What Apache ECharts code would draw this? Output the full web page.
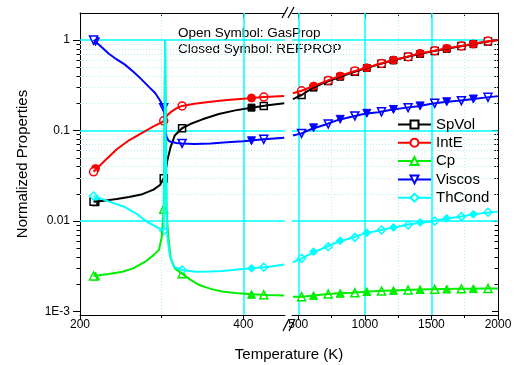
<!DOCTYPE html>
<html>
<head>
<meta charset="utf-8">
<script src="https://cdn.jsdelivr.net/npm/echarts@6/dist/echarts.min.js"></script>
<style>
html, body { margin: 0; padding: 0; background: #fff; }
#chart { width: 515px; height: 365px; }
</style>
</head>
<body>
<div id="chart"></div>
<script>
// marker temperatures (K): open = GasProp, closed = REFPROP
var openT   = [216.6, 302.5, 325, 425, 525, 725, 925, 1125, 1325, 1525, 1725, 1925];
var filledT = [219, 410, 615, 815, 1015, 1215, 1415, 1615, 1815];

// tick values / labels
var xLeftTicks  = [200, 400];
var xLeftMinor  = [300];
var xRightTicks = [500, 1000, 1500, 2000];
var xRightMinor = [750, 1250, 1750];
var yTicks      = [0.001, 0.01, 0.1, 1];
var yTickLabels = ['1E-3', '0.01', '0.1', '1'];
var yMinor = [0.002, 0.003, 0.004, 0.005, 0.006, 0.007, 0.008, 0.009,
              0.02, 0.03, 0.04, 0.05, 0.06, 0.07, 0.08, 0.09,
              0.2, 0.3, 0.4, 0.5, 0.6, 0.7, 0.8, 0.9];

// SpVol
var spVolT = [216.6, 230, 245, 260, 275, 290, 298, 302.5, 304, 307, 311, 316, 325, 335, 350, 370, 390, 410, 430, 450,
              460, 525, 600, 700, 800, 900, 1000, 1100, 1200, 1300, 1400, 1500, 1600, 1700, 1800, 1900, 2000];
var spVolV = [0.0163, 0.0168, 0.0175, 0.0184, 0.0196, 0.0222, 0.025, 0.030, 0.032, 0.047, 0.066, 0.088, 0.106, 0.118, 0.133, 0.152, 0.167, 0.179, 0.19, 0.2,
              0.222, 0.247, 0.29, 0.34, 0.385, 0.435, 0.485, 0.535, 0.59, 0.64, 0.695, 0.745, 0.795, 0.845, 0.895, 0.95, 1.0];
var spVolOpen   = [0.0163, 0.0297, 0.106, 0.187, 0.247, 0.352, 0.447, 0.548, 0.653, 0.757, 0.857, 0.962];
var spVolFilled = [0.0161, 0.179, 0.298, 0.393, 0.491, 0.596, 0.702, 0.80, 0.90];

// IntE
var intET = [216.6, 230, 245, 260, 275, 290, 298, 302.5, 304, 307, 312, 318, 325, 340, 360, 380, 400, 425, 450,
             460, 525, 600, 700, 800, 900, 1000, 1100, 1200, 1300, 1400, 1500, 1600, 1700, 1800, 1900, 2000];
var intEV = [0.035, 0.046, 0.062, 0.078, 0.093, 0.111, 0.121, 0.127, 0.13, 0.148, 0.162, 0.176, 0.187, 0.198, 0.208, 0.217, 0.225, 0.234, 0.241,
             0.258, 0.275, 0.305, 0.347, 0.395, 0.443, 0.489, 0.54, 0.595, 0.643, 0.705, 0.75, 0.804, 0.848, 0.9, 0.96, 1.0];
var intEOpen   = [0.035, 0.128, 0.187, 0.234, 0.275, 0.358, 0.454, 0.552, 0.654, 0.762, 0.859, 0.975];
var intEFilled = [0.038, 0.229, 0.31, 0.40, 0.494, 0.601, 0.713, 0.809, 0.904];

// Cp
var cpT = [216.6, 235, 252, 265, 280, 290, 296.7, 300, 302.5, 303.6, 304.2, 304.8, 306, 308, 311, 316, 325, 335, 346, 360, 374, 390, 410, 430, 450,
           460, 525, 600, 700, 800, 900, 1000, 1100, 1200, 1300, 1400, 1500, 1600, 1700, 1800, 1900, 2000];
var cpV = [0.00247, 0.0026, 0.00275, 0.003, 0.00355, 0.0042, 0.0048, 0.0066, 0.0135, 0.2, 1.0, 0.2, 0.013, 0.0068, 0.0039, 0.003, 0.00262, 0.00225, 0.00196, 0.00178, 0.00166, 0.0016, 0.00155, 0.00152, 0.0015,
           0.00146, 0.00146, 0.00149, 0.00155, 0.00159, 0.00161, 0.00165, 0.00168, 0.00171, 0.00173, 0.00175, 0.00176, 0.00177, 0.00178, 0.00179, 0.0018, 0.0018];
var cpOpen   = [0.00247, 0.0135, 0.00262, 0.00153, 0.00146, 0.00156, 0.00161, 0.00168, 0.00173, 0.00176, 0.00178, 0.0018];
var cpFilled = [0.00247, 0.00155, 0.0015, 0.00159, 0.00166, 0.00171, 0.00175, 0.00177, 0.00179];

// Viscos
var viscT = [216.6, 225, 235, 245, 255, 265, 275, 285, 292, 298, 302.5, 303.5, 304.5, 306, 308, 311, 318, 325, 340, 360, 380, 400, 425, 450,
             460, 525, 600, 700, 800, 900, 1000, 1100, 1200, 1300, 1400, 1500, 1600, 1700, 1800, 1900, 2000];
var viscV = [1.0, 0.86, 0.71, 0.61, 0.535, 0.45, 0.37, 0.3, 0.26, 0.215, 0.178, 0.14, 0.1, 0.085, 0.078, 0.075, 0.073, 0.072, 0.071, 0.072, 0.074, 0.076, 0.08, 0.083,
             0.088, 0.093, 0.104, 0.116, 0.131, 0.142, 0.153, 0.159, 0.17, 0.178, 0.186, 0.198, 0.207, 0.213, 0.222, 0.231, 0.24];
var viscOpen   = [1.0, 0.178, 0.072, 0.080, 0.093, 0.118, 0.145, 0.161, 0.179, 0.2, 0.214, 0.233];
var viscFilled = [0.958, 0.077, 0.107, 0.133, 0.155, 0.171, 0.187, 0.208, 0.223];

// ThCond
var thCondT = [216.6, 235, 254, 270, 282, 292, 298, 302.5, 303.6, 304.2, 304.8, 306, 307, 310, 315, 325, 342, 360, 374, 390, 410, 430, 450,
               460, 525, 600, 700, 800, 900, 1000, 1100, 1200, 1300, 1400, 1500, 1600, 1700, 1800, 1900, 2000];
var thCondV = [0.0189, 0.0165, 0.0144, 0.0119, 0.0098, 0.0088, 0.0082, 0.0078, 0.1, 1.0, 0.1, 0.012, 0.0067, 0.0042, 0.0031, 0.00288, 0.00275, 0.00276, 0.0028, 0.0029, 0.003, 0.0031, 0.0033,
               0.0035, 0.00387, 0.0044, 0.0051, 0.0059, 0.0065, 0.0073, 0.0078, 0.0084, 0.009, 0.0095, 0.0099, 0.0106, 0.0111, 0.0117, 0.0123, 0.0127];
var thCondOpen   = [0.0189, 0.0078, 0.00288, 0.00309, 0.00387, 0.0052, 0.0066, 0.00795, 0.00903, 0.0100, 0.0112, 0.0125];
var thCondFilled = [0.0178, 0.0030, 0.00458, 0.00606, 0.00743, 0.0085, 0.00966, 0.0107, 0.0119];

var props = [
    {name: 'SpVol',  color: '#000000', symbol: 'rect',     rot: 0,   t: spVolT,  v: spVolV,  open: spVolOpen,  filled: spVolFilled},
    {name: 'IntE',   color: '#ff0000', symbol: 'circle',   rot: 0,   t: intET,   v: intEV,   open: intEOpen,   filled: intEFilled},
    {name: 'Cp',     color: '#00ee00', symbol: 'triangle', rot: 0,   t: cpT,     v: cpV,     open: cpOpen,     filled: cpFilled},
    {name: 'Viscos', color: '#0000ff', symbol: 'triangle', rot: 180, t: viscT,   v: viscV,   open: viscOpen,   filled: viscFilled},
    {name: 'ThCond', color: '#00ffff', symbol: 'diamond',  rot: 0,   t: thCondT, v: thCondV, open: thCondOpen, filled: thCondFilled}
];

// the two pieces of the broken x axis
var segs = [
    {xi: 0, yi: 0, lo: 200, hi: 451, xMajor: xLeftTicks, xMinor: xLeftMinor},
    {xi: 4, yi: 2, lo: 453, hi: 2000, xMajor: xRightTicks, xMinor: xRightMinor}
];

var FONT = 'Liberation Sans, Arial, sans-serif';
var MAJOR = '#00ffff';
var MINOR = '#b4f2f2';

function pick(ts, vs, lo, hi) {
    var out = [];
    for (var i = 0; i < ts.length; i++) {
        if (ts[i] >= lo && ts[i] <= hi) out.push([ts[i], vs[i]]);
    }
    return out;
}

// grid lines as mark lines, kept below the data
function gridLines(s) {
    var d = [];
    var solid = {color: MAJOR, width: 1.5, type: 'solid'};
    var dot = {color: MINOR, width: 1, type: [1, 2]};
    yMinor.forEach(function (v) { d.push({yAxis: v, lineStyle: dot}); });
    s.xMinor.forEach(function (v) { d.push({xAxis: v, lineStyle: dot}); });
    yTicks.forEach(function (v) { d.push({yAxis: v, lineStyle: solid}); });
    s.xMajor.forEach(function (v) { if (v > s.lo && v < s.hi) d.push({xAxis: v, lineStyle: solid}); });
    return {silent: true, symbol: 'none', z: 1, animation: false, label: {show: false}, emphasis: {disabled: true}, data: d};
}

var series = [];
props.forEach(function (p, pi) {
    segs.forEach(function (s) {
        var ser = {
            name: p.name, type: 'line', xAxisIndex: s.xi, yAxisIndex: s.yi,
            data: pick(p.t, p.v, s.lo, s.hi),
            showSymbol: false, symbol: 'empty' + p.symbol.charAt(0).toUpperCase() + p.symbol.slice(1),
            symbolRotate: p.rot,
            color: p.color, lineStyle: {width: 2, color: p.color},
            silent: true
        };
        if (pi === 0) ser.markLine = gridLines(s);
        series.push(ser);
    });
    segs.forEach(function (s) {
        series.push({
            name: p.name + ' REFPROP', type: 'scatter', xAxisIndex: s.xi, yAxisIndex: s.yi,
            data: pick(filledT, p.filled, s.lo, s.hi),
            symbol: p.symbol, symbolRotate: p.rot, symbolSize: p.symbol === 'rect' ? 7 : 8,
            itemStyle: {color: p.color, borderColor: p.color, borderWidth: 1, opacity: 1},
            silent: true
        });
        series.push({
            name: p.name + ' GasProp', type: 'scatter', xAxisIndex: s.xi, yAxisIndex: s.yi,
            data: pick(openT, p.open, s.lo, s.hi),
            symbol: p.symbol, symbolRotate: p.rot, symbolSize: p.symbol === 'rect' ? 7 : 8,
            itemStyle: {color: '#ffffff', borderColor: p.color, borderWidth: 1.5, opacity: 1},
            silent: true
        });
    });
});

function xAxisPair(grid, min, max, ticks, minor) {
    var line = {lineStyle: {color: '#000', width: 1}};
    return [
        {gridIndex: grid, type: 'value', position: 'bottom', min: min, max: max,
         axisLine: line,
         axisTick: {customValues: ticks, length: 5, lineStyle: {color: '#000'}},
         axisLabel: {customValues: ticks, margin: 4, fontSize: 12, fontFamily: FONT, color: '#000',
                     formatter: function (v) { return String(v); }},
         splitLine: {show: false}},
        {gridIndex: grid, type: 'value', position: 'bottom', min: min, max: max,
         axisLine: {show: false},
         axisTick: {customValues: minor, length: 3, lineStyle: {color: '#000'}},
         axisLabel: {show: false}, splitLine: {show: false}},
        {gridIndex: grid, type: 'value', position: 'top', min: min, max: max,
         axisLine: line,
         axisTick: {inside: true, customValues: ticks, length: 5, lineStyle: {color: '#000'}},
         axisLabel: {show: false}, splitLine: {show: false}},
        {gridIndex: grid, type: 'value', position: 'top', min: min, max: max,
         axisLine: {show: false},
         axisTick: {inside: true, customValues: minor, length: 3, lineStyle: {color: '#000'}},
         axisLabel: {show: false}, splitLine: {show: false}}
    ];
}

var yMin = 0.000915, yMax = 1.99;

function yLabel(v) {
    var best = 0;
    for (var i = 0; i < yTicks.length; i++) {
        if (Math.abs(Math.log10(v) - Math.log10(yTicks[i])) < Math.abs(Math.log10(v) - Math.log10(yTicks[best]))) best = i;
    }
    return yTickLabels[best];
}

var option = {
    animation: false,
    backgroundColor: '#fff',
    textStyle: {fontFamily: FONT},
    grid: [
        {left: 80, top: 13, width: 205, height: 302, outerBoundsMode: 'none'},
        {left: 292, top: 13, width: 206, height: 302, outerBoundsMode: 'none'}
    ],
    xAxis: xAxisPair(0, 200, 451, xLeftTicks, xLeftMinor)
        .concat(xAxisPair(1, 453, 2000, xRightTicks, xRightMinor)),
    yAxis: [
        {gridIndex: 0, type: 'log', position: 'left', min: yMin, max: yMax,
         name: 'Normalized Properties', nameLocation: 'middle', nameGap: 50, nameRotate: 90,
         nameTextStyle: {fontSize: 15, fontFamily: FONT, color: '#000'},
         axisLine: {lineStyle: {color: '#000', width: 1}},
         axisTick: {customValues: yTicks, length: 7, lineStyle: {color: '#000'}},
         axisLabel: {customValues: yTicks, formatter: yLabel, margin: 10, fontSize: 12, fontFamily: FONT, color: '#000'},
         splitLine: {show: false}},
        {gridIndex: 0, type: 'log', position: 'left', min: yMin, max: yMax,
         axisLine: {show: false},
         axisTick: {customValues: yMinor, length: 3.5, lineStyle: {color: '#000'}},
         axisLabel: {show: false}, splitLine: {show: false}},
        {gridIndex: 1, type: 'log', position: 'right', min: yMin, max: yMax,
         axisLine: {lineStyle: {color: '#000', width: 1}},
         axisTick: {inside: true, customValues: yTicks, length: 6, lineStyle: {color: '#000'}},
         axisLabel: {show: false}, splitLine: {show: false}},
        {gridIndex: 1, type: 'log', position: 'right', min: yMin, max: yMax,
         axisLine: {show: false},
         axisTick: {inside: true, customValues: yMinor, length: 3.5, lineStyle: {color: '#000'}},
         axisLabel: {show: false}, splitLine: {show: false}}
    ],
    legend: {
        data: props.map(function (p) { return p.name; }),
        orient: 'vertical', left: 397, top: 117, padding: 0,
        itemWidth: 33, itemHeight: 10, itemGap: 3.3,
        textStyle: {fontSize: 15, fontFamily: FONT, color: '#000'},
        selectedMode: false
    },
    graphic: [
        {type: 'text', left: 178, top: 26, style: {text: 'Open Symbol: GasProp', fontSize: 13.5, fontFamily: FONT, fill: '#000'}},
        {type: 'text', left: 178, top: 42, style: {text: 'Closed Symbol: REFPROP', fontSize: 13.5, fontFamily: FONT, fill: '#000'}},
        {type: 'text', x: 289, y: 355, style: {text: 'Temperature (K)', fontSize: 15, fontFamily: FONT, fill: '#000', align: 'center', verticalAlign: 'middle'}},
        {type: 'line', shape: {x1: 282, y1: 18, x2: 288, y2: 7}, style: {stroke: '#000', lineWidth: 1.2}},
        {type: 'line', shape: {x1: 288, y1: 18, x2: 294, y2: 7}, style: {stroke: '#000', lineWidth: 1.2}},
        {type: 'line', shape: {x1: 283, y1: 331, x2: 289, y2: 319}, style: {stroke: '#000', lineWidth: 1.2}},
        {type: 'line', shape: {x1: 289, y1: 331, x2: 295, y2: 319}, style: {stroke: '#000', lineWidth: 1.2}}
    ],
    series: series
};

var chart = echarts.init(document.getElementById('chart'));
chart.setOption(option);
</script>
</body>
</html>
